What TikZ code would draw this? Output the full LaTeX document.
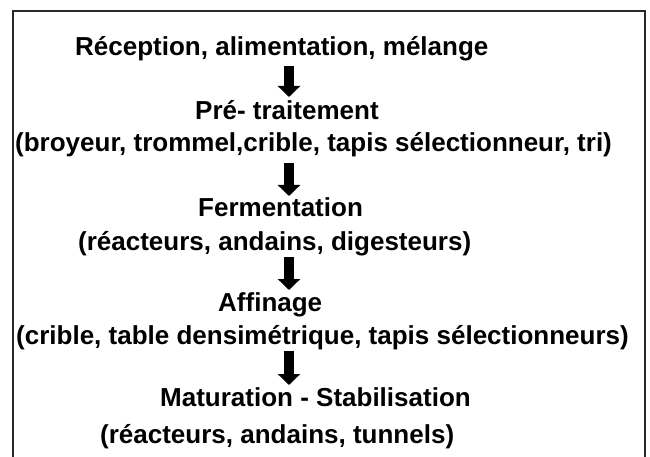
\documentclass[tikz,border=0pt]{standalone}
\usepackage{fontspec}
\setmainfont{Liberation Sans}
\usetikzlibrary{arrows.meta}
\definecolor{FrameGray}{RGB}{40,40,40}

\begin{document}
\begin{tikzpicture}[x=1pt,y=-1pt,
    stage/.style={anchor=base west,inner sep=0pt,font=\fontsize{26}{31}\selectfont\bfseries},
    flow/.style={line width=10pt,-{Triangle[width=22pt,length=11pt]},black}]
  \useasboundingbox (0,0) rectangle (650,457);
  \draw[FrameGray,line width=2.5pt] (13,457)--(13,11)--(645,11)--(645,457);
  % etapes du procede
  \node[stage] (rec) at (75,56) {Réception, alimentation, mélange};
  \node[stage] (pre) at (195,120) {Pré- traitement};
  \node[stage] (preq) at (15,152) {(broyeur, trommel,crible, tapis sélectionneur, tri)};
  \node[stage] (fer) at (198,216) {Fermentation};
  \node[stage] (ferq) at (78,250) {(réacteurs, andains, digesteurs)};
  \node[stage] (aff) at (218,311) {Affinage};
  \node[stage] (affq) at (16,344) {(crible, table densimétrique, tapis sélectionneurs)};
  \node[stage] (mat) at (160,406) {Maturation - Stabilisation};
  \node[stage] (matq) at (100,443) {(réacteurs, andains, tunnels)};
  % fleches
  \foreach \i/\ys/\ye in {1/66/97,2/163/196,3/257/290,4/351/385}{
    \coordinate (s\i) at (289,\ys);
    \coordinate (e\i) at (289,\ye);
    \draw[flow] (s\i)--(e\i);
  }
\end{tikzpicture}
\end{document}
